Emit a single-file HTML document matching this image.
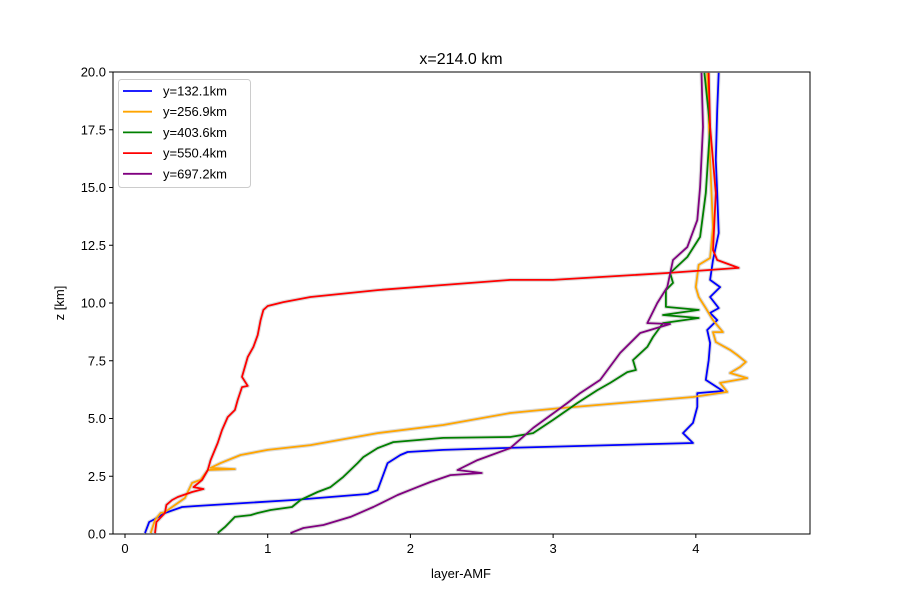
<!DOCTYPE html>
<html><head><meta charset="utf-8"><style>
body{margin:0;background:#fff;}
svg{font-family:"Liberation Sans","DejaVu Sans",sans-serif;}
</style></head><body>
<svg id="chart" width="900" height="600">
<rect x="0" y="0" width="900" height="600" fill="#fff"/>
<text x="461" y="64" font-size="16" text-anchor="middle">x=214.0 km</text>
<text x="461" y="578" font-size="13" text-anchor="middle">layer-AMF</text>
<text transform="translate(64,303) rotate(-90)" font-size="13" text-anchor="middle">z [km]</text>
<g id="plot"></g>
</svg>
<script>
const xTicks=[0,1,2,3,4];
const yTicks=[0,2.5,5,7.5,10,12.5,15,17.5,20];
const yTickLabels=["0.0","2.5","5.0","7.5","10.0","12.5","15.0","17.5","20.0"];
const seriesNames=["y=132.1km","y=256.9km","y=403.6km","y=550.4km","y=697.2km"];
const seriesColors=["blue","orange","green","red","purple"];
const blueX=[0.14,0.17,0.21,0.28,0.40,0.50,1.18,1.70,1.77,1.84,1.93,1.98,2.23,2.63,3.98,3.91,3.98,4.01,4.01,4.19,4.07,4.09,4.10,4.08,4.15,4.10,4.16,4.10,4.17,4.10,4.12,4.16,4.15,4.14,4.15,4.16];
const blueZ=[0.04,0.52,0.65,0.91,1.17,1.21,1.47,1.73,1.90,3.07,3.42,3.55,3.64,3.72,3.94,4.37,4.81,5.50,6.10,6.19,6.67,7.53,8.27,8.83,9.26,9.57,9.78,10.26,10.69,11.0,11.86,13.03,14.76,16.19,18.35,19.96];
const orangeX=[0.18,0.21,0.25,0.28,0.42,0.47,0.53,0.58,0.77,0.60,0.67,0.81,1.00,1.30,1.77,2.23,2.70,3.05,3.98,4.22,4.17,4.36,4.24,4.31,4.35,4.29,4.24,4.14,4.12,4.19,4.12,4.07,4.02,4.00,4.02,4.10,4.12,4.10,4.08];
const orangeZ=[0.04,0.61,0.91,0.95,1.56,2.21,2.34,2.77,2.81,2.86,3.07,3.42,3.64,3.85,4.37,4.72,5.24,5.45,5.93,6.15,6.54,6.75,6.97,7.23,7.45,7.75,7.97,8.31,8.74,8.74,9.26,9.78,10.26,10.69,11.65,11.95,13.29,16.19,19.96];
const greenX=[0.65,0.70,0.77,0.88,0.93,1.02,1.17,1.23,1.35,1.44,1.53,1.63,1.67,1.77,1.88,2.23,2.70,2.86,3.00,3.17,3.31,3.40,3.52,3.58,3.56,3.66,3.70,3.75,3.77,4.02,3.77,4.02,3.79,3.79,3.84,3.82,3.94,4.03,4.07,4.10,4.06];
const greenZ=[0.04,0.30,0.74,0.82,0.91,1.04,1.17,1.47,1.82,2.03,2.47,3.07,3.33,3.72,3.98,4.16,4.20,4.37,4.94,5.67,6.23,6.54,7.01,7.10,7.53,8.10,8.53,8.96,9.13,9.35,9.48,9.70,9.83,10.56,10.87,11.30,11.99,12.86,14.76,17.62,19.96];
const redX=[0.21,0.22,0.28,0.29,0.33,0.37,0.47,0.55,0.48,0.54,0.58,0.60,0.65,0.68,0.72,0.77,0.79,0.82,0.86,0.82,0.86,0.90,0.93,0.95,0.97,1.00,1.11,1.30,1.77,2.23,2.70,3.00,3.80,4.30,4.15,4.12,4.14,4.10,4.09];
const redZ=[0.04,0.52,0.91,1.26,1.47,1.60,1.82,1.95,2.03,2.34,2.77,3.20,3.94,4.50,5.06,5.37,5.80,6.36,6.41,6.80,7.66,8.10,8.61,9.26,9.70,9.87,10.04,10.26,10.56,10.78,11.00,11.0,11.30,11.52,11.86,12.29,14.76,17.62,19.96];
const purpleX=[1.16,1.25,1.39,1.58,1.74,1.91,2.05,2.14,2.28,2.50,2.33,2.47,2.70,2.86,3.10,3.19,3.33,3.47,3.61,3.82,3.66,3.73,3.80,3.84,3.94,4.01,4.03,4.05,4.04];
const purpleZ=[0.04,0.26,0.39,0.74,1.17,1.69,2.03,2.25,2.55,2.64,2.77,3.20,3.72,4.59,5.67,6.10,6.67,7.84,8.70,9.09,9.13,10.00,10.69,11.86,12.42,13.59,15.02,17.62,19.96];
const seriesX=[blueX,orangeX,greenX,redX,purpleX];
const seriesZ=[blueZ,orangeZ,greenZ,redZ,purpleZ];

const L=113,R=810,T=72,B=534,xMin=-0.084,xMax=4.80,yMin=0,yMax=20;
const sx=v=>L+(v-xMin)/(xMax-xMin)*(R-L);
const sy=v=>B-(v-yMin)/(yMax-yMin)*(B-T);
const NS="http://www.w3.org/2000/svg";
const g=document.getElementById('plot');
function mk(tag,attrs,parent){const e=document.createElementNS(NS,tag);for(const k in attrs)e.setAttribute(k,attrs[k]);(parent||g).appendChild(e);return e;}

const defs=mk('clipPath',{id:'clip'});mk('rect',{x:L,y:T,width:R-L,height:B-T},defs);
const lines=mk('g',{'clip-path':'url(#clip)'});


seriesX.forEach((xs,i)=>{
  const pts=xs.map((x,j)=>sx(x).toFixed(1)+','+sy(seriesZ[i][j]).toFixed(1)).join(' ');
  const sh=mk('polyline',{points:pts,fill:'none',stroke:'#d6d6d6','stroke-width':4,'stroke-opacity':0.85,'stroke-linejoin':'round'},lines);
  
  
});
seriesX.forEach((xs,i)=>{
  const pts=xs.map((x,j)=>sx(x).toFixed(1)+','+sy(seriesZ[i][j]).toFixed(1)).join(' ');
  const p=mk('polyline',{points:pts,fill:'none',stroke:seriesColors[i],'stroke-width':1.8,'stroke-linejoin':'round'},lines);
  
  
});
const frame=mk('rect',{x:L,y:T,width:R-L,height:B-T,fill:'none',stroke:'#000','stroke-width':1});


xTicks.forEach(v=>{
  const x=sx(v);
  const t=mk('line',{x1:x,x2:x,y1:B,y2:B+4,stroke:'#000'});
  
  
  const l=mk('text',{x:x,y:B+19,'font-size':13,'text-anchor':'middle'});l.textContent=String(v);
  
  
});
yTicks.forEach((v,i)=>{
  const y=sy(v);
  const t=mk('line',{x1:L-4,x2:L,y1:y,y2:y,stroke:'#000'});
  
  
  const l=mk('text',{x:L-7,y:y+4.5,'font-size':13,'text-anchor':'end'});l.textContent=yTickLabels[i];
  
  
});
const leg=mk('g',{});


mk('rect',{x:118.5,y:79.5,width:132,height:108,rx:3,fill:'#fff','fill-opacity':0.8,stroke:'#ccc'},leg);
seriesNames.forEach((n,i)=>{
  const y=91+i*20.7;
  const e=mk('g',{},leg);
  
  
  mk('line',{x1:123,x2:152,y1:y,y2:y,stroke:seriesColors[i],'stroke-width':1.8},e);
  const t=mk('text',{x:163,y:y+4.5,'font-size':13},e);t.textContent=n;
});
</script>
</body></html>
